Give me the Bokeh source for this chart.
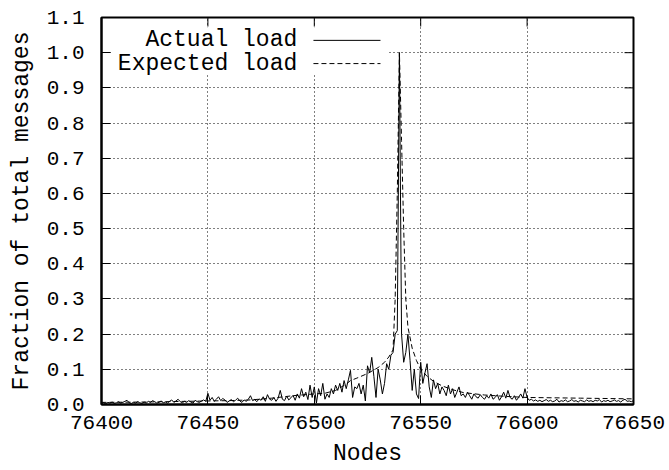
from bokeh.plotting import figure
from bokeh.models import (Range1d, FixedTicker, NumeralTickFormatter,
                          Label, Arrow, BoxAnnotation)
from bokeh.embed import file_html
from bokeh.resources import INLINE
import math

# ---------------- data ----------------
node_start = 76400
actual_load = [
    0.003, 0.005, 0.002, 0.006, 0.004, 0.007, 0.003, 0.005, 0.008, 0.004,
    0.006, 0.009, 0.012, 0.005, 0.003, 0.006, 0.004, 0.008, 0.005, 0.003,
    0.007, 0.004, 0.009, 0.006, 0.011, 0.008, 0.004, 0.006, 0.010, 0.005,
    0.007, 0.004, 0.009, 0.013, 0.006, 0.010, 0.015, 0.008, 0.005, 0.009,
    0.006, 0.011, 0.007, 0.004, 0.012, 0.008, 0.006, 0.010, 0.013, 0.009,
    0.032, 0.012, 0.020, 0.009, 0.015, 0.022, 0.011, 0.017, 0.013, 0.006,
    0.010, 0.014, 0.008, 0.012, 0.018, 0.010, 0.006, 0.013, 0.009, 0.015,
    0.025, 0.011, 0.014, 0.008, 0.016, 0.012, 0.022, 0.009, 0.028, 0.015,
    0.012, 0.020, 0.009, 0.018, 0.040, 0.015, 0.011, 0.024, 0.013, 0.019,
    0.026, 0.012, 0.030, 0.018, 0.045, 0.022, 0.035, 0.014, 0.055, 0.020,
    0.050, 0.004, 0.045, 0.025, 0.060, 0.015, 0.030, 0.020, 0.045, 0.030,
    0.055, 0.040, 0.060, 0.035, 0.068, 0.045, 0.070, 0.097, 0.020, 0.050,
    0.045, 0.060, 0.030, 0.055, 0.010, 0.110, 0.090, 0.134, 0.080, 0.020,
    0.100, 0.070, 0.030, 0.060, 0.116, 0.100, 0.140, 0.148, 0.200, 0.210,
    1.000,
    0.200, 0.120, 0.148, 0.200, 0.125, 0.040, 0.100, 0.030, 0.017, 0.120,
    0.060, 0.090, 0.116, 0.050, 0.020, 0.070, 0.045, 0.060, 0.030, 0.050,
    0.040, 0.025, 0.055, 0.030, 0.045, 0.020, 0.035, 0.050, 0.025, 0.030,
    0.020, 0.035, 0.025, 0.015, 0.030, 0.022, 0.018, 0.028, 0.020, 0.015,
    0.025, 0.018, 0.030, 0.015, 0.020, 0.028, 0.012, 0.022, 0.035, 0.018,
    0.040, 0.020, 0.015, 0.025, 0.012, 0.020, 0.030, 0.018, 0.045, 0.020,
    0.012, 0.015, 0.010, 0.013, 0.009, 0.012, 0.008, 0.011, 0.014, 0.009,
    0.012, 0.008, 0.010, 0.015, 0.007, 0.011, 0.009, 0.013, 0.008, 0.010,
    0.014, 0.009, 0.011, 0.007, 0.012, 0.010, 0.008, 0.013, 0.009, 0.011,
    0.008, 0.012, 0.010, 0.014, 0.007, 0.011, 0.009, 0.012, 0.008, 0.010,
    0.013, 0.009, 0.011, 0.007, 0.012, 0.015, 0.009, 0.010, 0.008, 0.011,
]
actual_nodes = list(range(node_start, node_start + len(actual_load)))

expected_nodes = [76400, 76420, 76440, 76460, 76470, 76480, 76490, 76500, 76505,
                  76510, 76515, 76517, 76520, 76525, 76530, 76533, 76535, 76537,
                  76538, 76539, 76540, 76541, 76542, 76543, 76544, 76546, 76548,
                  76550, 76553, 76556, 76560, 76565, 76570, 76580, 76590, 76600,
                  76625, 76650]
expected_load = [0.006, 0.007, 0.009, 0.011, 0.013, 0.018, 0.025, 0.030, 0.032,
                 0.040, 0.058, 0.068, 0.075, 0.088, 0.105, 0.120, 0.135, 0.155,
                 0.300, 0.600, 1.000, 0.750, 0.500, 0.300, 0.220, 0.160, 0.125,
                 0.100, 0.080, 0.066, 0.053, 0.042, 0.034, 0.027, 0.023, 0.020,
                 0.018, 0.016]

x_ticks = [76400, 76450, 76500, 76550, 76600, 76650]
y_ticks = [0.0, 0.1, 0.2, 0.3, 0.4, 0.5, 0.6, 0.7, 0.8, 0.9, 1.0, 1.1]
x_label = "Nodes"
y_label = "Fraction of total messages"
series_names = ["Actual load", "Expected load"]

FONT = "Liberation Mono"

# ---------------- figure ----------------
p = figure(width=669, height=470, output_backend="svg", toolbar_location=None,
           x_range=Range1d(x_ticks[0], x_ticks[-1]), y_range=Range1d(y_ticks[0], y_ticks[-1]),
           min_border_left=101, min_border_right=36, min_border_top=17, min_border_bottom=66,
           x_axis_label=x_label, y_axis_label=y_label)
p.background_fill_color = "white"
p.border_fill_color = "white"
p.outline_line_color = "black"
p.outline_line_width = 2

p.xaxis.ticker = FixedTicker(ticks=x_ticks)
p.yaxis.ticker = FixedTicker(ticks=y_ticks)
p.yaxis.formatter = NumeralTickFormatter(format="0.0")
p.xaxis.formatter = NumeralTickFormatter(format="0")

for ax in (p.xaxis[0], p.yaxis[0]):
    ax.major_tick_in = 9
    ax.major_tick_out = 0
    ax.minor_tick_line_color = None
    ax.axis_line_color = "black"
    ax.axis_line_width = 2
    ax.major_tick_line_color = "black"
    ax.major_tick_line_width = 1
    ax.major_label_text_font = FONT
    ax.major_label_text_font_size = "21px"
    ax.major_label_text_color = "black"
    ax.axis_label_text_font = FONT
    ax.axis_label_text_font_size = "23px"
    ax.axis_label_text_font_style = "normal"
    ax.axis_label_text_color = "black"

p.yaxis.major_label_standoff = 17
p.yaxis.axis_label_standoff = 9
p.xaxis.major_label_standoff = 11
p.xaxis.axis_label_standoff = 9

p.grid.grid_line_color = "black"
p.grid.grid_line_dash = "1 3"
p.grid.grid_line_width = 1
p.xgrid.ticker = FixedTicker(ticks=x_ticks)
p.ygrid.ticker = FixedTicker(ticks=y_ticks)

# mirror ticks on the top and right borders (half of each dash is clipped by the frame)
p.scatter(x=x_ticks, y=[y_ticks[-1]] * len(x_ticks), marker="dash", size=18,
          angle=math.pi / 2, line_color="black", line_width=1)
p.scatter(x=[x_ticks[-1]] * len(y_ticks), y=y_ticks, marker="dash", size=18,
          line_color="black", line_width=1)

# ---------------- data lines ----------------
p.line(actual_nodes, actual_load, line_color="black", line_width=1)
p.line(expected_nodes, expected_load, line_color="black", line_width=1, line_dash="5 3")

# ---------------- key (gnuplot style: text then sample) ----------------
key_box = BoxAnnotation(left=76405, right=76535, bottom=0.938, top=1.072,
                        fill_color="white", fill_alpha=1.0, line_color=None)
p.add_layout(key_box)
key_text_x = 76492
key_rows_y = [1.035, 0.969]
key_sample = (76499.6, 76531.1)
dashes = [None, "5 3"]
for name, yy, dash in zip(series_names, key_rows_y, dashes):
    p.add_layout(Label(x=key_text_x, y=yy, text=name, text_align="right",
                       text_baseline="middle", text_font=FONT, text_font_size="23px",
                       text_color="black"))
    arr = Arrow(x_start=key_sample[0], y_start=yy, x_end=key_sample[1], y_end=yy,
                end=None, line_color="black", line_width=1)
    if dash:
        arr.line_dash = dash
    p.add_layout(arr)

open("out.html", "w").write(file_html(p, INLINE))
